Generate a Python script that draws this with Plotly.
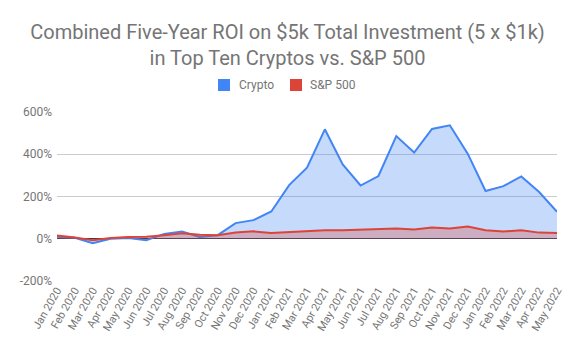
import plotly.graph_objects as go

months = ["Jan 2020","Feb 2020","Mar 2020","Apr 2020","May 2020","Jun 2020","Jul 2020","Aug 2020",
          "Sep 2020","Oct 2020","Nov 2020","Dec 2020","Jan 2021","Feb 2021","Mar 2021","Apr 2021",
          "May 2021","Jun 2021","Jul 2021","Aug 2021","Sep 2021","Oct 2021","Nov 2021","Dec 2021",
          "Jan 2022","Feb 2022","Mar 2022","Apr 2022","May 2022"]
crypto = [10, 5, -21, 0, 4, -7, 23, 34, 8, 17, 74, 88, 129, 254, 336, 518, 352, 252, 297, 486,
          408, 520, 537, 403, 226, 249, 295, 221, 128]
sp500 = [15, 6, -7, 3, 8, 10, 17, 26, 19, 17, 29, 35, 27, 32, 34, 40, 40, 44, 46, 49,
         44, 53, 49, 58, 40, 34, 40, 29, 27]
series_names = ["Crypto", "S&P 500"]
y_ticks = [-200, 0, 200, 400, 600]
y_tick_labels = ["-200%", "0%", "200%", "400%", "600%"]

BLUE = "#4285F4"
RED = "#DB4437"
GRAY = "#757575"
FONT = "Roboto"

W, H = 575, 356
ML, MR, MT, MB = 57, 18, 112, 75
PW, PH = W - ML - MR, H - MT - MB


def px_x(px):
    return (px - ML) / PW


def px_y(py):
    return (H - MB - py) / PH


fig = go.Figure()
fig.add_trace(go.Scatter(x=months, y=crypto, mode="lines", line=dict(color=BLUE, width=2),
                         fill="tozeroy", fillcolor="rgba(66,133,244,0.30)", showlegend=False,
                         name=series_names[0]))
fig.add_trace(go.Scatter(x=months, y=sp500, mode="lines", line=dict(color=RED, width=2),
                         fill="tozeroy", fillcolor="rgba(219,68,55,0.30)", showlegend=False,
                         name=series_names[1]))

# legend (drawn manually for exact placement)
legend_items = [(series_names[0], BLUE, 218, 239), (series_names[1], RED, 290, 310)]
shapes = []
annotations = []
for name, col, sq_left, txt_left in legend_items:
    shapes.append(dict(type="rect", xref="paper", yref="paper",
                       x0=px_x(sq_left), x1=px_x(sq_left + 12),
                       y0=px_y(91), y1=px_y(79), fillcolor=col, line=dict(width=0)))
    annotations.append(dict(text=name, xref="paper", yref="paper", x=px_x(txt_left - 2),
                            y=px_y(85), xanchor="left", yanchor="middle", showarrow=False,
                            font=dict(family=FONT, size=12, color=GRAY)))

fig.update_layout(
    width=W, height=H,
    margin=dict(l=ML, r=MR, t=MT, b=MB),
    paper_bgcolor="white", plot_bgcolor="white",
    font=dict(family=FONT, color=GRAY, size=12),
    title=dict(text="Combined Five-Year ROI on $5k Total Investment (5 x $1k)<br>in Top Ten Cryptos vs. S&P 500",
               x=0.5, xanchor="center", y=0.891, yanchor="bottom",
               font=dict(family=FONT, size=20, color=GRAY)),
    showlegend=False,
    shapes=shapes,
    annotations=annotations,
)
fig.update_xaxes(type="category", range=[0, len(months) - 1], tickangle=-60,
                 showgrid=False, showline=False, ticks="",
                 tickfont=dict(family=FONT, size=11, color=GRAY))
fig.update_yaxes(range=[-200, 600], tickvals=y_ticks, ticktext=y_tick_labels,
                 showgrid=True, gridcolor="#cccccc", gridwidth=1,
                 zeroline=True, zerolinecolor="#333333", zerolinewidth=1,
                 showline=False, ticks="", ticklabelstandoff=4,
                 tickfont=dict(family=FONT, size=12, color=GRAY))

fig.write_html("out.html", config={"displayModeBar": False},
               post_script="document.body.style.margin='0px';")
